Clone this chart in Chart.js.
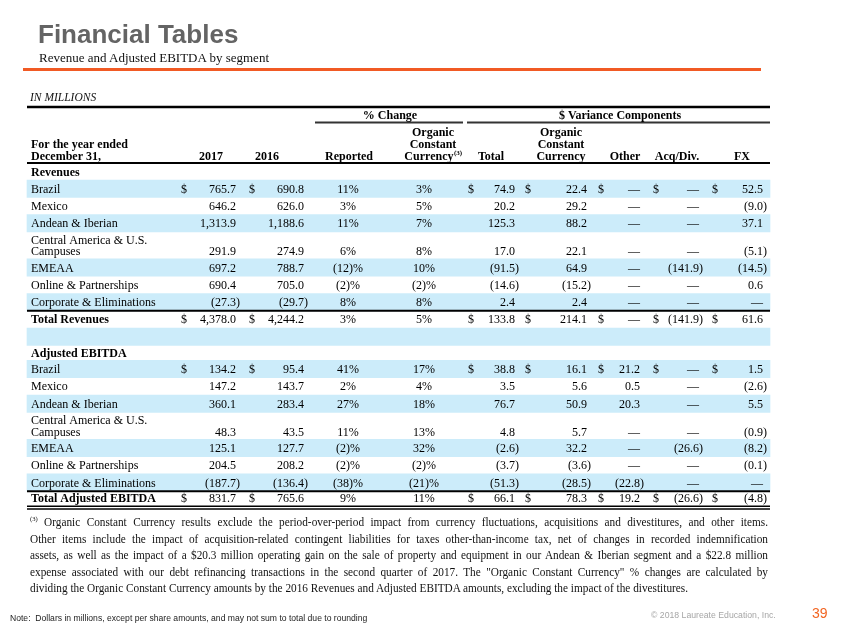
<!DOCTYPE html>
<html>
<head>
<meta charset="utf-8">
<script src="https://cdn.jsdelivr.net/npm/chart.js@4.4.1/dist/chart.umd.min.js"></script>
<style>
  body { margin: 0; background: #fff; }
  #page { position: relative; width: 847px; height: 635px; overflow: hidden; }
  #wrap { position: absolute; left: 0; top: 0; width: 847px; height: 635px; }
  .t { position: absolute; white-space: nowrap; line-height: 1; }
  .serif { font-family: "Liberation Serif", "Times New Roman", serif; }
  .sans { font-family: "Liberation Sans", Arial, sans-serif; }
  #title { left: 38px; top: 21px; font-size: 26px; font-weight: bold; color: #646464; }
  #subtitle { left: 39px; top: 51px; font-size: 13px; color: #111; }
  #rule { position: absolute; left: 23px; top: 68px; width: 738px; height: 3px; background: #f15a24; }
  #units { left: 30px; top: 92px; font-size: 11.5px; font-style: italic; color: #111; }
  .fn { position: absolute; left: 30px; font-size: 12px; line-height: 1; white-space: nowrap; color: #111;
        text-align: justify; text-align-last: justify; transform-origin: 0 0; }
  .fn.last { text-align-last: left; }
  .fn sup { font-size: 7px; vertical-align: 5px; line-height: 0; }
  #note { left: 10px; top: 614px; font-size: 8.6px; color: #222; }
  #copy { left: 651px; top: 611px; font-size: 8.7px; color: #a6a6a6; }
  #pageno { left: 812px; top: 606px; font-size: 14px; color: #f26522; }
</style>
</head>
<body>
<div id="page">
  <div id="wrap"><canvas id="myChart"></canvas></div>
  <div class="t sans" id="title">Financial Tables</div>
  <div class="t serif" id="subtitle">Revenue and Adjusted EBITDA by segment</div>
  <div id="rule"></div>
  <div class="t serif" id="units">IN MILLIONS</div>
  <div class="fn serif" style="top:516px"><sup>(3)</sup> Organic Constant Currency results exclude the period-over-period impact from currency fluctuations, acquisitions and divestitures, and other items.</div>
  <div class="fn serif" style="top:532.5px">Other items include the impact of acquisition-related contingent liabilities for taxes other-than-income tax, net of changes in recorded indemnification</div>
  <div class="fn serif" style="top:549px">assets, as well as the impact of a $20.3 million operating gain on the sale of property and equipment in our Andean &amp; Iberian segment and a $22.8 million</div>
  <div class="fn serif" style="top:565.5px">expense associated with our debt refinancing transactions in the second quarter of 2017. The "Organic Constant Currency" % changes are calculated by</div>
  <div class="fn serif last" style="top:582px">dividing the Organic Constant Currency amounts by the 2016 Revenues and Adjusted EBITDA amounts, excluding the impact of the divestitures.</div>
  <div class="t sans" id="note">Note:&nbsp; Dollars in millions, except per share amounts, and may not sum to total due to rounding</div>
  <div class="t sans" id="copy">© 2018 Laureate Education, Inc.</div>
  <div class="t sans" id="pageno">39</div>
</div>
<script>
// ---- data (in millions) ----
const segments = ['Brazil', 'Mexico', 'Andean & Iberian', 'Central America & U.S. Campuses', 'EMEAA', 'Online & Partnerships', 'Corporate & Eliminations'];
const colHeaders = [['2017'], ['2016'], ['Reported'], ['Organic', 'Constant', 'Currency'], ['Total'], ['Organic', 'Constant', 'Currency'], ['Other'], ['Acq/Div.'], ['FX']];
const colKinds = ['$', '$', '%', '%', '$', '$', '$', '$', '$'];

// revenues
const rev2017 = [765.7, 646.2, 1313.9, 291.9, 697.2, 690.4, -27.3];
const rev2016 = [690.8, 626.0, 1188.6, 274.9, 788.7, 705.0, -29.7];
const revReported = [11, 3, 11, 6, -12, -2, 8];
const revOrganic = [3, 5, 7, 8, 10, -2, 8];
const revVarTotal = [74.9, 20.2, 125.3, 17.0, -91.5, -14.6, 2.4];
const revVarOrganic = [22.4, 29.2, 88.2, 22.1, 64.9, -15.2, 2.4];
const revVarOther = [null, null, null, null, null, null, null];
const revVarAcq = [null, null, null, null, -141.9, null, null];
const revVarFx = [52.5, -9.0, 37.1, -5.1, -14.5, 0.6, null];
const revTotals = [4378.0, 4244.2, 3, 5, 133.8, 214.1, null, -141.9, 61.6];

// adjusted EBITDA
const eb2017 = [134.2, 147.2, 360.1, 48.3, 125.1, 204.5, -187.7];
const eb2016 = [95.4, 143.7, 283.4, 43.5, 127.7, 208.2, -136.4];
const ebReported = [41, 2, 27, 11, -2, -2, -38];
const ebOrganic = [17, 4, 18, 13, 32, -2, -21];
const ebVarTotal = [38.8, 3.5, 76.7, 4.8, -2.6, -3.7, -51.3];
const ebVarOrganic = [16.1, 5.6, 50.9, 5.7, 32.2, -3.6, -28.5];
const ebVarOther = [21.2, 0.5, 20.3, null, null, null, -22.8];
const ebVarAcq = [null, null, null, null, -26.6, null, null];
const ebVarFx = [1.5, -2.6, 5.5, -0.9, -8.2, -0.1, null];
const ebTotals = [831.7, 765.6, 9, 11, 66.1, 78.3, 19.2, -26.6, -4.8];

const sections = [
  { title: 'Revenues', total: 'Total Revenues',
    cols: [rev2017, rev2016, revReported, revOrganic, revVarTotal, revVarOrganic, revVarOther, revVarAcq, revVarFx], totals: revTotals },
  { title: 'Adjusted EBITDA', total: 'Total Adjusted EBITDA',
    cols: [eb2017, eb2016, ebReported, ebOrganic, ebVarTotal, ebVarOrganic, ebVarOther, ebVarAcq, ebVarFx], totals: ebTotals }
];

// ---- layout (page units) ----
const serif = '"Liberation Serif", "Times New Roman", serif';
const tableLeft = 27, tableRight = 770, labelX = 31, labelMax = 140;
const dollarX = [181, 249, null, null, 468, 525, 598, 653, 712];
const valueX = [236, 304, 348, 424, 515, 587, 640, 699, 763];   // right edge for $, centre for %
const headX = [211, 267, 349, 433, 491, 561, 625, 677, 742];
const ROW = 17.3, ROW2 = 27, bodyTop = 163;
const bandColor = '#ccecfa';

function fmtMoney(v) {
  if (v === null) return '—';
  const s = Math.abs(v).toLocaleString('en-US', { minimumFractionDigits: 1, maximumFractionDigits: 1 });
  return v < 0 ? '(' + s + ')' : s;
}
function fmtPct(v) {
  return v < 0 ? '(' + Math.abs(v) + ')%' : v + '%';
}

// wrap long labels
const mctx = document.createElement('canvas').getContext('2d');
mctx.font = '12px ' + serif;
function wrap(label) {
  const words = label.split(' ');
  const lines = [];
  let cur = '';
  words.forEach(w => {
    const test = cur ? cur + ' ' + w : w;
    if (cur && mctx.measureText(test).width > labelMax) { lines.push(cur); cur = w; }
    else cur = test;
  });
  lines.push(cur);
  return lines;
}

// build rows
const rows = [];
let yy = bodyTop;
sections.forEach((sec, si) => {
  const th = si === 0 ? 17 : 15;
  rows.push({ kind: 'title', label: [sec.title], top: yy, h: th }); yy += th;
  segments.forEach((seg, i) => {
    const lines = wrap(seg);
    const h = lines.length > 1 ? ROW2 : ROW;
    rows.push({ kind: 'data', label: lines, top: yy, h: h, shade: i % 2 === 0, dollars: i === 0,
                vals: sec.cols.map(c => c[i]) });
    yy += h;
  });
  const toth = si === 0 ? ROW : 14.5;
  rows.push({ kind: 'total', label: [sec.total], top: yy, h: toth, dollars: true, vals: sec.totals }); yy += toth;
  if (si === 0) { rows.push({ kind: 'blank', top: yy, h: ROW, shade: true }); yy += ROW; }
});
const tableBottom = yy;

const bandData = rows.filter(r => r.shade).map(r => ({ x: [tableLeft, tableRight], y: r.top + r.h / 2 }));

const tablePlugin = {
  id: 'tableText',
  afterDatasetsDraw(chart) {
    const ctx = chart.ctx;
    const px = v => chart.scales.x.getPixelForValue(v);
    const py = v => chart.scales.y.getPixelForValue(v);
    ctx.save();
    ctx.fillStyle = '#000';
    ctx.textBaseline = 'alphabetic';

    function text(s, ux, uy, align, bold, size) {
      ctx.font = (bold ? 'bold ' : '') + (size || 12) + 'px ' + serif;
      ctx.textAlign = align;
      ctx.fillText(s, px(ux), py(uy) + 4);
    }
    function rule(x0, x1, uy, w, color) {
      ctx.strokeStyle = color || '#000';
      ctx.lineWidth = w;
      ctx.beginPath();
      ctx.moveTo(px(x0), py(uy));
      ctx.lineTo(px(x1), py(uy));
      ctx.stroke();
    }

    // rules
    rule(tableLeft, tableRight, 107, 2.5);
    rule(315, 463, 122.5, 2, '#333');
    rule(467, tableRight, 122.5, 2, '#333');
    rule(tableLeft, tableRight, bodyTop, 2);
    rule(tableLeft, tableRight, tableBottom + 0.5, 1.5);
    rule(tableLeft, tableRight, tableBottom + 3.3, 1.5);

    // group headers
    text('% Change', 390, 115, 'center', true);
    text('$ Variance Components', 620, 115, 'center', true);

    // column headers
    text('For the year ended', labelX, 144, 'left', true);
    text('December 31,', labelX, 155.5, 'left', true);
    colHeaders.forEach((lines, c) => {
      lines.forEach((ln, k) => {
        const uy = 155.5 - (lines.length - 1 - k) * 11.6;
        if (c === 3 && k === lines.length - 1) {
          ctx.font = 'bold 12px ' + serif;
          const w1 = ctx.measureText(ln).width;
          ctx.font = 'bold 7px ' + serif;
          const w2 = ctx.measureText('(3)').width;
          const left = headX[c] - (w1 + w2) / 2;
          text(ln, left, uy, 'left', true);
          text('(3)', left + w1 + 0.5, uy - 4.5, 'left', true, 7);
        } else {
          text(ln, headX[c], uy, 'center', true);
        }
      });
    });

    // body
    rows.forEach(r => {
      if (r.kind === 'blank') return;
      if (r.kind === 'total') rule(tableLeft, tableRight, r.top, 2);
      const bold = r.kind !== 'data';
      const mid = r.top + r.h / 2;
      const n = r.label.length;
      r.label.forEach((ln, k) => {
        text(ln, labelX, mid + (k - (n - 1) / 2) * 11.6, 'left', bold);
      });
      if (!r.vals) return;
      const vy = mid + ((n - 1) / 2) * 11.6;
      r.vals.forEach((v, c) => {
        if (colKinds[c] === '%') {
          text(fmtPct(v), valueX[c], vy, 'center', false);
        } else {
          if (r.dollars) text('$', dollarX[c], vy, 'left', false);
          const s = fmtMoney(v);
          text(s, valueX[c] + (s.endsWith(')') ? 4 : 0), vy, 'right', false);
        }
      });
    });
    ctx.restore();
  }
};

let myChart = document.getElementById('myChart').getContext('2d');
let newChart = new Chart(myChart, {
  type: 'bar',
  data: {
    datasets: [{
      label: 'row shading',
      data: bandData,
      backgroundColor: bandColor,
      borderWidth: 0,
      barThickness: ROW
    }]
  },
  options: {
    indexAxis: 'y',
    responsive: true,
    maintainAspectRatio: false,
    animation: false,
    events: [],
    layout: { padding: 0 },
    plugins: { legend: { display: false }, tooltip: { enabled: false } },
    scales: {
      x: { type: 'linear', min: 0, max: 847, display: false },
      y: { type: 'linear', min: 0, max: 635, reverse: true, display: false, offset: false }
    }
  },
  plugins: [tablePlugin]
});

// squeeze the footnote lines so the last line ends where the reference does
const fnLines = document.querySelectorAll('.fn');
const last = fnLines[fnLines.length - 1];
const natural = last.scrollWidth;
const k = Math.min(1, 658 / natural);
fnLines.forEach(el => {
  el.style.width = (738 / k) + 'px';
  el.style.transform = 'scaleX(' + k + ')';
});
</script>
</body>
</html>
